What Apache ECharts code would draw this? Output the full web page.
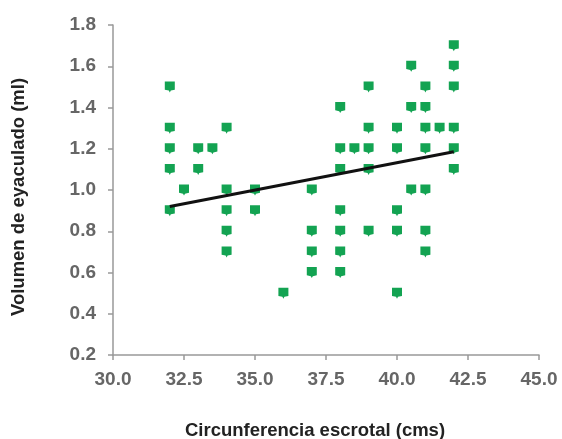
<!DOCTYPE html>
<html>
<head>
<meta charset="utf-8">
<script src="https://cdn.jsdelivr.net/npm/echarts@6/dist/echarts.min.js"></script>
<style>html,body{margin:0;padding:0;background:#fff;}#c{width:562px;height:439px;}</style>
</head>
<body>
<div id="c"></div>
<script>
var xTicks = [30.0, 32.5, 35.0, 37.5, 40.0, 42.5, 45.0];
var yTicks = [0.2, 0.4, 0.6, 0.8, 1.0, 1.2, 1.4, 1.6, 1.8];
var circX = [32,32,32,32,32, 32.5, 33,33, 33.5, 34,34,34,34,34, 35,35, 36, 37,37,37,37,
  38,38,38,38,38,38,38, 38.5, 39,39,39,39,39, 40,40,40,40,40, 40.5,40.5,40.5,
  41,41,41,41,41,41,41, 41.5, 42,42,42,42,42,42];
var volY = [1.5,1.3,1.2,1.1,0.9, 1.0, 1.2,1.1, 1.2, 1.3,1.0,0.9,0.8,0.7, 1.0,0.9, 0.5, 1.0,0.8,0.7,0.6,
  1.4,1.2,1.1,0.9,0.8,0.7,0.6, 1.2, 1.5,1.3,1.2,1.1,0.8, 1.3,1.2,0.9,0.8,0.5, 1.6,1.4,1.0,
  1.5,1.4,1.3,1.2,1.0,0.8,0.7, 1.3, 1.7,1.6,1.5,1.3,1.2,1.1];
var trendX = [32, 42];
var trendY = [0.92, 1.185];

var pts = circX.map(function(x,i){return [x, volY[i]];});
var trend = trendX.map(function(x,i){return [x, trendY[i]];});

var chart = echarts.init(document.getElementById('c'));
var lab = {color:'#666', fontFamily:'Liberation Sans, Arial, sans-serif', fontSize:19, fontWeight:'bold'};
chart.setOption({
  animation:false,
  grid:{left:113, top:25, width:426, height:330, outerBoundsMode:'none', containLabel:false},
  xAxis:{type:'value', min:30, max:45, interval:2.5,
    name:'Circunferencia escrotal (cms)', nameLocation:'middle', nameGap:66,
    nameTextStyle:{color:'#222', fontFamily:'Liberation Sans, Arial, sans-serif', fontSize:18.5, fontWeight:'bold', padding:[0,22,0,0]},
    axisLine:{show:true, lineStyle:{color:'#999', width:1.5}},
    axisTick:{show:true, inside:false, length:5, lineStyle:{color:'#999', width:1.5}},
    splitLine:{show:false},
    axisLabel:Object.assign({margin:15, formatter:function(v){return v.toFixed(1);}}, lab)
  },
  yAxis:{type:'value', min:0.2, max:1.8, interval:0.2,
    name:'Volumen de eyaculado (ml)', nameLocation:'middle', nameGap:85, nameRotate:90,
    nameTextStyle:{color:'#222', fontFamily:'Liberation Sans, Arial, sans-serif', fontSize:18.5, fontWeight:'bold', padding:[0,14,0,0]},
    axisLine:{show:true, lineStyle:{color:'#999', width:1.5}},
    axisTick:{show:true, inside:false, length:5, lineStyle:{color:'#999', width:1.5}},
    splitLine:{show:false},
    axisLabel:Object.assign({margin:17, formatter:function(v){return v.toFixed(1);}}, lab)
  },
  series:[
    {type:'scatter', data:pts, symbol:'path://M0,0 L10,0 L10,9 L6,10 L5,12 L4,10 L0,9 Z', symbolSize:[10,11],
      itemStyle:{color:'#13a352', opacity:1}, z:2},
    {type:'line', data:trend, symbol:'none', lineStyle:{color:'#111', width:3}, z:3}
  ]
});
</script>
</body>
</html>
